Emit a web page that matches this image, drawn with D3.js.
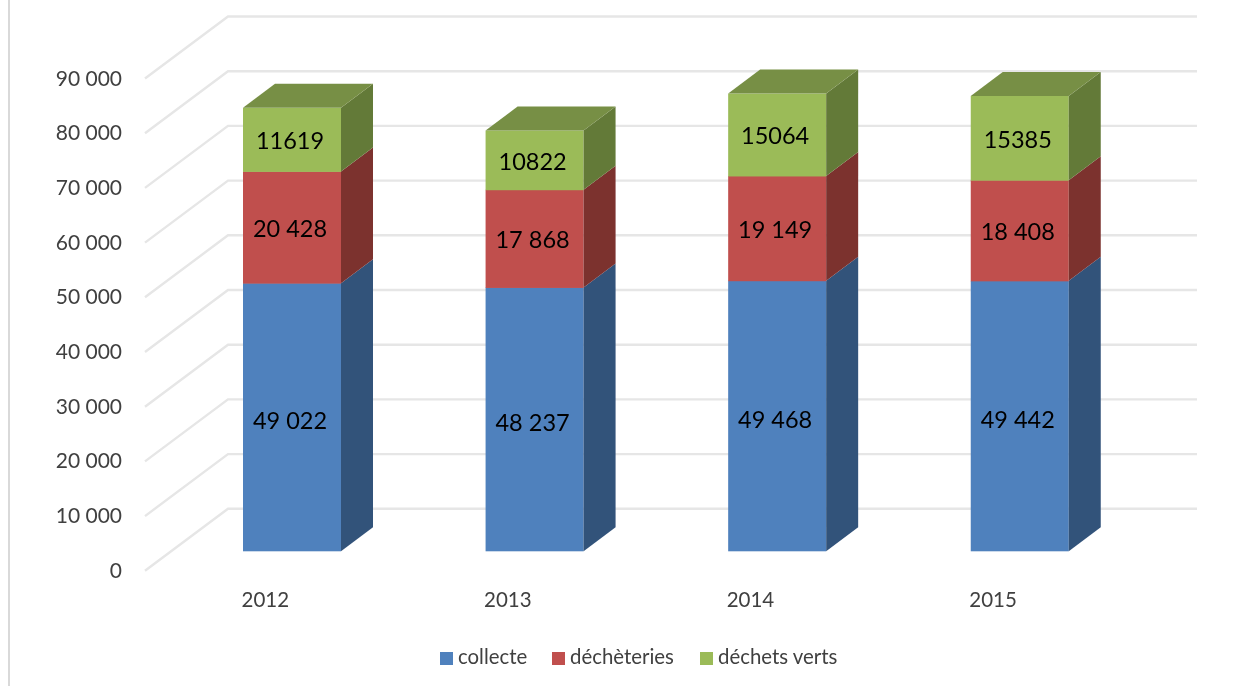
<!DOCTYPE html>
<html><head><meta charset="utf-8">
<script src="https://cdnjs.cloudflare.com/ajax/libs/d3/7.8.5/d3.min.js"></script>
<style>html,body{margin:0;background:#fff}svg{display:block}text{font-family:Lato,sans-serif}</style>
</head><body><svg id="c" width="1247" height="686"></svg>
<script>
const years=["2012","2013","2014","2015"];
const seriesNames=["collecte","déchèteries","déchets verts"];
const collecte=[49022,48237,49468,49442];
const decheteries=[20428,17868,19149,18408];
const dechetsVerts=[11619,10822,15064,15385];
const labelCollecte=["49 022","48 237","49 468","49 442"];
const labelDecheteries=["20 428","17 868","19 149","18 408"];
const labelVerts=["11619","10822","15064","15385"];
const yTicks=[0,10000,20000,30000,40000,50000,60000,70000,80000,90000];
const tickLabels=["0","10 000","20 000","30 000","40 000","50 000","60 000","70 000","80 000","90 000"];
const colFront=["#4f81bd","#c0504d","#9bbb59"];
const colSide=["#32527a","#7b302e","#647a39"];
const colTop="#778f45";

const svg=d3.select("#c");
const defs=svg.append("defs");
defs.append("filter").attr("id","soft").attr("x","-5%").attr("y","-5%").attr("width","110%").attr("height","110%")
  .append("feGaussianBlur").attr("stdDeviation",0.5);
const root=svg.append("g").attr("filter","url(#soft)");

// left frame line
root.append("line").attr("x1",9).attr("x2",9).attr("y1",0).attr("y2",686).attr("stroke","#d9d9d9").attr("stroke-width",2);

// scales: y on the bar plane; wall and floor offsets derive from it
const y=d3.scaleLinear().domain([0,90000]).range([551.3,59]);
const x=d3.scalePoint().domain(years).range([292,1019.75]);
const barW=98, dx=32, dy=-24;
const axisOffset=19.5, wallX=228, wallEnd=1197, edgeX=145;

// gridlines (wall and floor)
const grid=root.append("g").attr("fill","none").attr("stroke","#e6e6e6").attr("stroke-width",2.4);
grid.selectAll("path").data(yTicks).join("path")
  .attr("d",d=>{const yf=y(d)+axisOffset;return d3.line()([[edgeX,yf],[wallX,yf-62],[wallEnd,yf-62]]);});

// axis labels
root.append("g").attr("font-size",21).attr("fill","#404040").attr("text-anchor","end")
  .selectAll("text").data(yTicks).join("text")
  .attr("x",122).attr("y",d=>y(d)+axisOffset+7)
  .text((d,i)=>tickLabels[i]);

root.append("g").attr("font-size",20.5).attr("fill","#404040")
  .selectAll("text").data(years).join("text")
  .attr("x",d=>x(d)-50.5).attr("y",607).text(d=>d);

// stacked bars
const rows=years.map((yr,i)=>({yr,collecte:collecte[i],decheteries:decheteries[i],verts:dechetsVerts[i]}));
const stacked=d3.stack().keys(["collecte","decheteries","verts"])(rows);
const labels=[labelCollecte,labelDecheteries,labelVerts];
const labelShift=[[-2,11.5],[-2,9.5],[-2,9.5]];
const barsG=root.append("g");
stacked.forEach((layer,s)=>{
  layer.forEach((d,i)=>{
    const x0=x(years[i])-barW/2,x1=x0+barW,yb=y(d[0]),yt=y(d[1]);
    barsG.append("rect").attr("x",x0).attr("y",yt).attr("width",barW).attr("height",yb-yt+(s===0?0:0.5)).attr("fill",colFront[s]);
    barsG.append("path").attr("fill",colSide[s])
      .attr("d",d3.line()([[x1,yb],[x1+dx,yb+dy],[x1+dx,yt+dy],[x1,yt]])+"Z");
    if(s===2) barsG.append("path").attr("fill",colTop)
      .attr("d",d3.line()([[x0,yt],[x0+dx,yt+dy],[x1+dx,yt+dy],[x1,yt]])+"Z");
  });
});
stacked.forEach((layer,s)=>{
  layer.forEach((d,i)=>{
    root.append("text").attr("x",x(years[i])+labelShift[s][0]).attr("y",(y(d[0])+y(d[1]))/2+labelShift[s][1])
      .attr("text-anchor","middle").attr("font-size",23.5).attr("fill","#000").text(labels[s][i]);
  });
});

// legend
const legX=[440,552,700], legT=[458,570,718];
const leg=root.append("g");
seriesNames.forEach((n,i)=>{
  leg.append("rect").attr("x",legX[i]).attr("y",652).attr("width",13).attr("height",13).attr("fill",colFront[i]);
  leg.append("text").attr("x",legT[i]).attr("y",664).attr("font-size",20.4).attr("fill","#404040").text(n);
});
</script></body></html>
